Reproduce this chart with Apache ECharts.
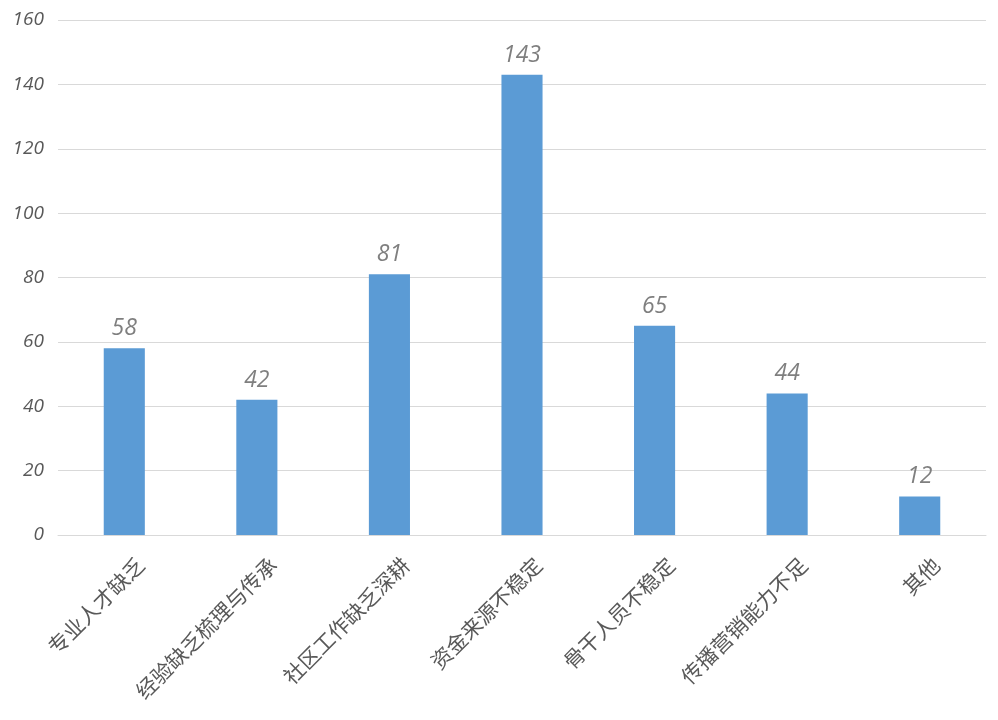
<!DOCTYPE html>
<html><head><meta charset="utf-8">
<script src="https://cdn.jsdelivr.net/npm/echarts@6/dist/echarts.min.js"></script>
<style>html,body{margin:0;padding:0;background:#fff}#c{width:998px;height:720px}</style>
</head><body><div id="c"></div>
<script>
const categories = ['专业人才缺乏','经验缺乏梳理与传承','社区工作缺乏深耕','资金来源不稳定','骨干人员不稳定','传播营销能力不足','其他'];
const values = [58, 42, 81, 143, 65, 44, 12];
const yTicks = [0, 20, 40, 60, 80, 100, 120, 140, 160];

const chart = echarts.init(document.getElementById('c'));
chart.setOption({
  animation: false,
  grid: {left: 58, right: 12, top: 20, bottom: 185, containLabel: false},
  xAxis: {
    type: 'category', data: categories,
    axisLine: {show: true, lineStyle: {color: '#d9d9d9', width: 1}},
    axisTick: {show: false},
    axisLabel: {rotate: 45, interval: 0, color: '#595959', fontSize: 21, margin: 10,
      verticalAlign: 'top', lineHeight: 46,
      fontFamily: '"Noto Sans CJK SC", sans-serif'}
  },
  yAxis: {
    type: 'value', min: yTicks[0], max: yTicks[yTicks.length-1], interval: 20,
    axisLine: {show: false}, axisTick: {show: false},
    splitLine: {lineStyle: {color: '#d9d9d9', width: 1}},
    axisLabel: {color: '#595959', fontSize: 19, fontStyle: 'italic', margin: 14,
      fontFamily: '"Open Sans", sans-serif'}
  },
  series: [{
    type: 'bar', data: values, barWidth: '31%',
    itemStyle: {color: '#5b9bd5'},
    label: {show: true, position: 'top', distance: 8, color: '#7f7f7f', fontSize: 23,
      fontStyle: 'italic', fontFamily: '"Open Sans", sans-serif'}
  }]
});
</script></body></html>
